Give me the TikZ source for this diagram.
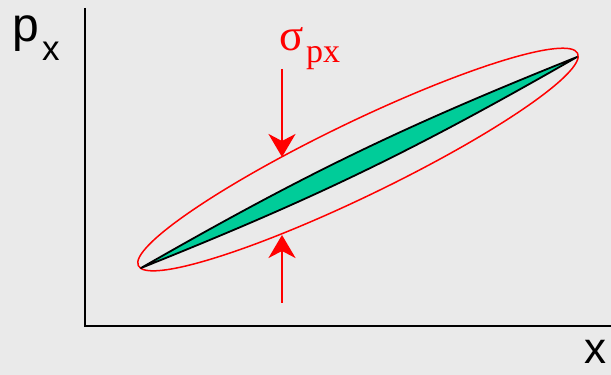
\documentclass[tikz,border=0pt]{standalone}
\usepackage{fontspec}
\setmainfont{Liberation Serif}
\newfontfamily\arialf{Liberation Sans}
\usetikzlibrary{arrows.meta}
\definecolor{bgc}{RGB}{234,234,234}
\definecolor{lensgreen}{RGB}{0,204,153}
\tikzset{
  axisline/.style={line width=2pt, black},
  sigarrow/.style={line width=2.3pt, red, -{Stealth[length=23pt,width=27pt,inset=7pt]}},
  axlabel/.style={inner sep=0pt, anchor=base west, font=\arialf},
}
\begin{document}
\begin{tikzpicture}[x=1pt,y=1pt]
\fill[bgc] (0,0) rectangle (611,375);
\useasboundingbox (0,0) rectangle (611,375);
% axes
\coordinate (ytop) at (85,367);
\coordinate (o) at (85,49);
\coordinate (xend) at (612,49);
\draw[axisline] (ytop) -- (o) -- (xend);
% labels
\node[axlabel] (plab) at (12,333) {\fontsize{48}{48}\selectfont p};
\node[axlabel] (pxsub) at (42,314) {\fontsize{35}{35}\selectfont x};
\node[axlabel] (xlab) at (584,11) {\fontsize{44}{44}\selectfont x};
% red ellipse
\coordinate (ec) at (358,215.5);
\draw[red, line width=1.5pt, rotate around={25.8:(ec)}] (ec) ellipse [x radius=244, y radius=37];
% lens
\coordinate (A) at (141,107);
\coordinate (B) at (577,318);
\draw[fill=lensgreen, draw=black, line width=1.8pt, line join=round]
  (A) to[bend left=4] (B) to[bend left=4] (A) -- cycle;
% sigma label
\node[inner sep=0pt, anchor=base west, text=red] (sig) at (279,324) {\fontsize{45}{45}\selectfont σ};
\node[inner sep=0pt, anchor=base west, text=red] (sigsub) at (306,312) {\fontsize{34}{34}\selectfont px};
% arrows
\coordinate (dtop) at (282,306);
\coordinate (dtip) at (282,218);
\coordinate (ubot) at (282,72);
\coordinate (utip) at (282,140);
\draw[sigarrow] (dtop) -- (dtip);
\draw[sigarrow] (ubot) -- (utip);
\end{tikzpicture}
\end{document}
